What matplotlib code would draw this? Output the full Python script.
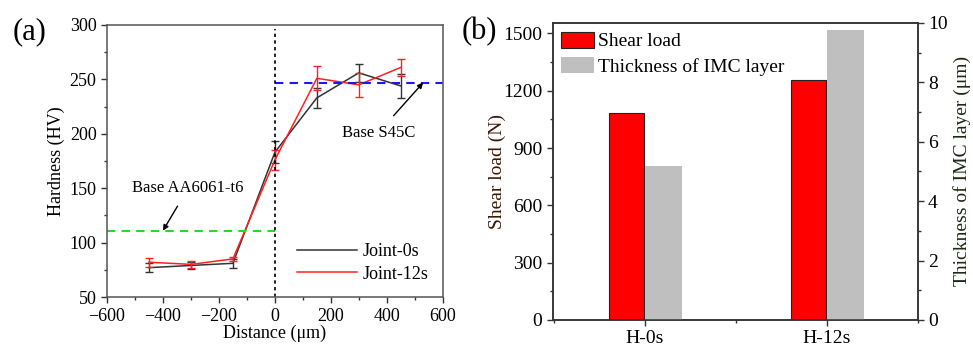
import matplotlib
matplotlib.use("Agg")
import matplotlib.pyplot as plt
import numpy as np
from matplotlib.ticker import MultipleLocator

plt.rcParams['font.family'] = ['Liberation Serif', 'DejaVu Serif']
plt.rcParams['mathtext.fontset'] = 'stix'

# ---- data panel (a)
distance = [-450, -300, -150, 0, 150, 300, 450]
joint0_hv = [77, 79, 81, 183, 233, 256, 244]
joint0_err = [4, 3, 4, 10, 9, 8, 11]
joint12_hv = [82, 80, 85, 176, 251, 245, 261]
joint12_err = [4, 3, 2, 9, 11, 11, 8]
base_al = 111
base_steel = 247

# ---- data panel (b)
samples = ["H-0s", "H-12s"]
shear_load = [1083, 1258]
imc_thickness = [5.18, 9.75]

fig = plt.figure(figsize=(9.73, 3.47), dpi=100)

# ===== Panel (a)
ax = fig.add_axes([0.110, 0.144, 0.345, 0.784])
ax.plot(distance, joint0_hv, color='#333333', lw=1.1, label='Joint-0s')
ax.errorbar(distance, joint0_hv, yerr=joint0_err, fmt='none', ecolor='#333333',
            elinewidth=1.0, capsize=3)
ax.plot(distance, joint12_hv, color='#ff2020', lw=1.1, label='Joint-12s')
ax.errorbar(distance, joint12_hv, yerr=joint12_err, fmt='none', ecolor='#ff2020',
            elinewidth=1.0, capsize=3)
ax.plot([-600, 0], [base_al, base_al], color='#22dd22', lw=1.5, ls=(0, (4, 3)))
ax.plot([0, 600], [base_steel, base_steel], color='#1a1aee', lw=1.5, ls=(0, (4, 3)))
ax.plot([0, 0], [50, 296], color='black', lw=1.2, ls=(0, (2, 2)))
ax.set_xlim(-600, 600)
ax.set_ylim(50, 300)
ax.xaxis.set_major_locator(MultipleLocator(200))
ax.xaxis.set_minor_locator(MultipleLocator(100))
ax.yaxis.set_major_locator(MultipleLocator(50))
ax.yaxis.set_minor_locator(MultipleLocator(25))
ax.tick_params(which='both', direction='out', labelsize=13, width=1, color='#333333')
ax.tick_params(which='major', length=4)
ax.tick_params(which='minor', length=2.5)
ax.tick_params(axis='x', pad=4)
for s in ax.spines.values():
    s.set_color('#555555')
    s.set_linewidth(1.1)
ax.set_xlabel('Distance (μm)', fontsize=13, labelpad=0)
ax.set_ylabel('Hardness (HV)', fontsize=13, labelpad=3)
ax.annotate('Base AA6061-t6', xy=(-400, base_al), xytext=(-310, 150),
            fontsize=12, ha='center', va='center',
            arrowprops=dict(arrowstyle='-|>', color='black', lw=1.0,
                            mutation_scale=8, shrinkA=6, shrinkB=0))
ax.annotate('Base S45C', xy=(530, base_steel), xytext=(370, 201),
            fontsize=12, ha='center', va='center',
            arrowprops=dict(arrowstyle='-|>', color='black', lw=1.0,
                            mutation_scale=8, shrinkA=6, shrinkB=0))
ax.legend(loc='lower right', frameon=False, fontsize=13, handlelength=3.3,
          handletextpad=0.3, labelspacing=0.3, borderaxespad=0.4)
fig.text(0.013, 0.91, '(a)', fontsize=22, va='center')

# ===== Panel (b)
bx = fig.add_axes([0.568, 0.078, 0.375, 0.856])
x = np.arange(len(samples))
w = 0.19
b1 = bx.bar(x - w / 2 - 0.005, shear_load, width=w, color='#ff0000',
            edgecolor='#222222', lw=0.8, label='Shear load')
bx.set_ylim(0, 1555)
bx.set_xlim(-0.505, 1.5)
bx.set_xticks(x)
bx.set_xticklabels(samples)
bx.xaxis.set_minor_locator(MultipleLocator(0.5))
bx.yaxis.set_major_locator(MultipleLocator(300))
bx.yaxis.set_minor_locator(MultipleLocator(150))
bx.set_ylabel('Shear load (N)', fontsize=14, color='#3a1808', labelpad=-2)

bx2 = bx.twinx()
b2 = bx2.bar(x + w / 2 + 0.01, imc_thickness, width=w + 0.01, color='#bfbfbf',
             edgecolor='none', label='Thickness of IMC layer')
bx2.set_ylim(0, 10)
bx2.yaxis.set_major_locator(MultipleLocator(2))
bx2.yaxis.set_minor_locator(MultipleLocator(1))
bx2.set_ylabel('Thickness of IMC layer (μm)', fontsize=14, color='#1a2a10', labelpad=4)

for a in (bx, bx2):
    a.tick_params(which='both', direction='out', labelsize=14, width=1, color='#333333')
    a.tick_params(which='major', length=4)
    a.tick_params(which='minor', length=2.5)
    for s in a.spines.values():
        s.set_color('#333333')
        s.set_linewidth(1.1)

leg = bx.legend([b1, b2], ['Shear load', 'Thickness of IMC layer'], loc='upper left',
                frameon=False, fontsize=14, handlelength=1.7, handleheight=0.9,
                handletextpad=0.2, labelspacing=0.35, borderaxespad=0.15,
                borderpad=0.3)
fig.text(0.474, 0.91, '(b)', fontsize=22, va='center')

fig.savefig('out.png', dpi=100)
